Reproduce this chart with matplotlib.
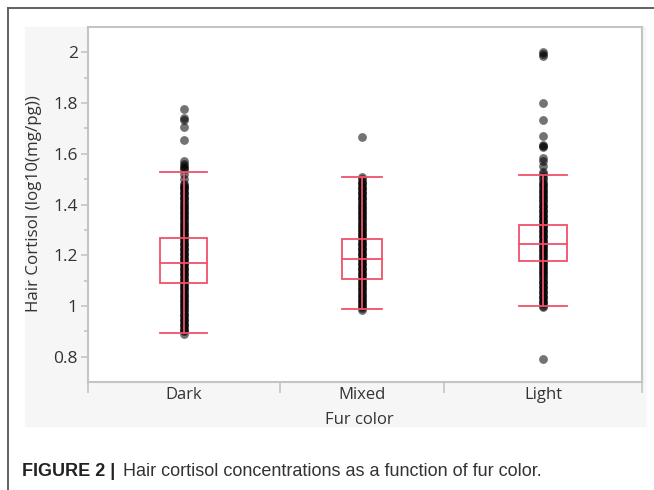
#!/usr/bin/env python3
"""Hair cortisol by fur colour: JMP-style one-way plot with quantile boxes."""
import matplotlib
matplotlib.use("Agg")
import matplotlib.pyplot as plt
from matplotlib.patches import Rectangle
from matplotlib.lines import Line2D

plt.rcParams.update({
    "font.family": ["Open Sans", "DejaVu Sans"],
})

CATS = ["Dark", "Mixed", "Light"]
# JMP widens each category band by its sample size
BOUNDS = [0.0, 0.347, 0.643, 1.0]

Q1 = [1.09, 1.105, 1.176]
MED = [1.17, 1.187, 1.246]
Q3 = [1.268, 1.262, 1.321]
LOW = [0.895, 0.988, 1.0]
HIGH = [1.53, 1.508, 1.518]

dark = [
    0.89, 0.90, 0.91, 0.92, 0.93, 0.94, 0.95, 0.96, 0.97, 0.98, 0.99,
    1.00, 1.01, 1.02, 1.03, 1.04, 1.05, 1.06, 1.07, 1.08, 1.09,
    1.10, 1.11, 1.12, 1.13, 1.14, 1.15, 1.16, 1.17, 1.18, 1.19,
    1.20, 1.21, 1.22, 1.23, 1.24, 1.25, 1.26, 1.27, 1.28, 1.29,
    1.30, 1.31, 1.32, 1.33, 1.34, 1.35, 1.36, 1.37, 1.38, 1.39,
    1.40, 1.41, 1.42, 1.43, 1.44, 1.45, 1.46, 1.47, 1.48,
    0.905, 0.925, 0.945, 0.965, 0.985, 1.005, 1.025, 1.045, 1.065, 1.085,
    1.105, 1.125, 1.145, 1.165, 1.185, 1.205, 1.225, 1.245, 1.265, 1.285,
    1.305, 1.325, 1.345, 1.365, 1.385, 1.405, 1.425, 1.445, 1.465, 1.475,
    1.50, 1.52, 1.54, 1.545, 1.55, 1.56, 1.57,
    1.655, 1.705, 1.735, 1.74, 1.775,
]
mixed = [
    0.985, 0.99, 1.00, 1.01, 1.02, 1.03, 1.04, 1.05, 1.06, 1.07, 1.08, 1.09,
    1.10, 1.11, 1.12, 1.13, 1.14, 1.15, 1.16, 1.17, 1.18, 1.19,
    1.20, 1.21, 1.22, 1.23, 1.24, 1.25, 1.26, 1.27, 1.28, 1.29,
    1.30, 1.31, 1.32, 1.33, 1.34, 1.35, 1.36, 1.37, 1.38, 1.39,
    1.40, 1.41, 1.42, 1.43, 1.44, 1.45, 1.46, 1.47, 1.48, 1.49,
    1.005, 1.025, 1.045, 1.065, 1.085, 1.105, 1.125, 1.145, 1.165, 1.185,
    1.205, 1.225, 1.245, 1.265, 1.285, 1.305, 1.325, 1.345, 1.365, 1.385,
    1.405, 1.425, 1.445, 1.465, 1.485,
    1.50, 1.51,
    1.665,
]
light = [
    0.79,
    0.995, 1.00, 1.01, 1.02, 1.03, 1.04, 1.05, 1.06, 1.07, 1.08, 1.09,
    1.10, 1.11, 1.12, 1.13, 1.14, 1.15, 1.16, 1.17, 1.18, 1.19,
    1.20, 1.21, 1.22, 1.23, 1.24, 1.25, 1.26, 1.27, 1.28, 1.29,
    1.30, 1.31, 1.32, 1.33, 1.34, 1.35, 1.36, 1.37, 1.38, 1.39,
    1.40, 1.41, 1.42, 1.43, 1.44, 1.45, 1.46, 1.47, 1.48, 1.49,
    1.015, 1.035, 1.055, 1.075, 1.095, 1.115, 1.135, 1.155, 1.175, 1.195,
    1.215, 1.235, 1.255, 1.275, 1.295, 1.315, 1.335, 1.355, 1.375, 1.395,
    1.415, 1.435, 1.455, 1.475,
    1.50, 1.51, 1.52, 1.53, 1.55, 1.57, 1.585, 1.625, 1.63, 1.635,
    1.67, 1.735, 1.80, 1.985, 1.995, 2.0,
]
POINTS = [dark, mixed, light]

YTICKS = [0.8, 1.0, 1.2, 1.4, 1.6, 1.8, 2.0]
YTICKLABELS = ["0.8", "1", "1.2", "1.4", "1.6", "1.8", "2"]

BOXC = "#f0506a"
SPINEC = "#c4c4c4"
TXTC = "#333333"

fig = plt.figure(figsize=(6.54, 4.9), dpi=100)

# light grey report panel and outer card border
panel = Rectangle((25 / 654, 1 - 426 / 490), 620 / 654, 399 / 490,
                  transform=fig.transFigure, color="#f6f6f6", zorder=-5)
fig.patches.append(panel)
fig.lines.append(Line2D([7.5 / 654, 7.5 / 654], [0, 1 - 8 / 490],
                        transform=fig.transFigure, color="#555555", lw=1.3))
fig.lines.append(Line2D([7.5 / 654, 1], [1 - 8 / 490, 1 - 8 / 490],
                        transform=fig.transFigure, color="#555555", lw=1.3))

ax = fig.add_axes([87.5 / 654, 108 / 490, 554.5 / 654, 355 / 490])
ax.set_facecolor("white")

for i, vals in enumerate(POINTS):
    left, right = BOUNDS[i], BOUNDS[i + 1]
    cx = (left + right) / 2
    bw = 0.245 * (right - left)
    ax.scatter([cx] * len(vals), vals, s=40, color="black", alpha=0.55,
               linewidths=0, zorder=2)
    # quantile box, median, whiskers
    ax.add_patch(Rectangle((cx - bw / 2, Q1[i]), bw, Q3[i] - Q1[i], fill=False,
                           edgecolor=BOXC, lw=1.3, zorder=3))
    ax.plot([cx - bw / 2, cx + bw / 2], [MED[i], MED[i]], color=BOXC, lw=1.3, zorder=3)
    ax.plot([cx, cx], [LOW[i], HIGH[i]], color=BOXC, lw=1.3, zorder=3)
    for v in (LOW[i], HIGH[i]):
        ax.plot([cx - bw / 2, cx + bw / 2], [v, v], color=BOXC, lw=1.3, zorder=3)

ax.set_xlim(0, 1)
ax.set_ylim(0.7, 2.1)
ax.set_yticks(YTICKS)
ax.set_yticklabels(YTICKLABELS)
ax.set_yticks([0.9, 1.1, 1.3, 1.5, 1.7, 1.9], minor=True)
ax.tick_params(axis="y", which="major", length=5, width=1.2, color=SPINEC,
               labelsize=12.5, labelcolor=TXTC, pad=2)
ax.tick_params(axis="y", which="minor", length=3, width=1.2, color=SPINEC)

ax.set_xticks(BOUNDS)
ax.set_xticklabels([])
ax.tick_params(axis="x", length=8, width=1.2, color=SPINEC)
for i, cat in enumerate(CATS):
    ax.text((BOUNDS[i] + BOUNDS[i + 1]) / 2, -13 / 355, cat, transform=ax.transAxes,
            ha="center", va="center", fontsize=12, color=TXTC)
ax.text(0.49, -38 / 355, "Fur color", transform=ax.transAxes,
        ha="center", va="center", fontsize=12, color=TXTC)

for s in ax.spines.values():
    s.set_color(SPINEC)
    s.set_linewidth(1.5)

fig.text(34 / 654, 1 - 204 / 490, "Hair Cortisol (log10(mg/pg))", rotation=90,
         ha="center", va="center", fontsize=12.2, color=TXTC)

fig.text(22 / 654, 1 - 471 / 490, "FIGURE 2 |", ha="left", va="center",
         fontsize=13, fontweight="bold", color="#222222",
         family=["Liberation Sans", "DejaVu Sans"])
fig.text(123 / 654, 1 - 471 / 490,
         "Hair cortisol concentrations as a function of fur color.",
         ha="left", va="center", fontsize=13, color="#333333",
         family=["Liberation Sans", "DejaVu Sans"])

fig.savefig("out.png", dpi=100)
